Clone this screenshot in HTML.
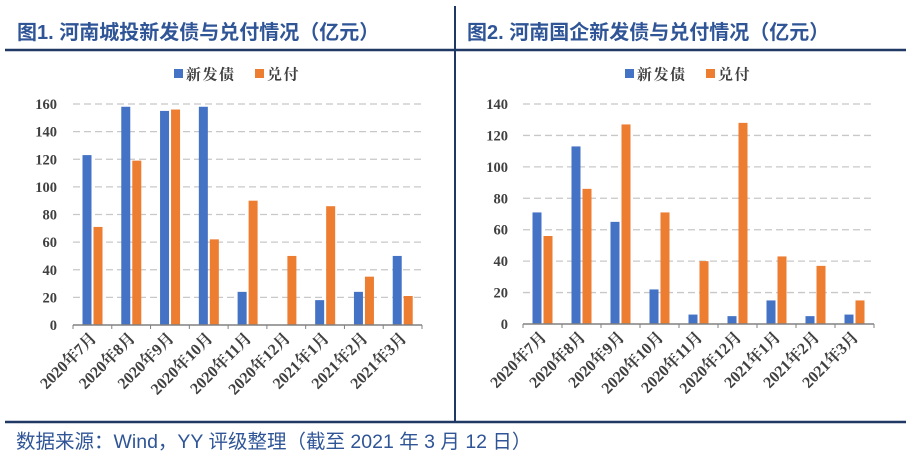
<!DOCTYPE html>
<html><head><meta charset="utf-8"><style>
html,body{margin:0;padding:0;background:#fff;width:918px;height:458px;overflow:hidden}
svg text{font-family:"Liberation Serif","Noto Serif CJK SC",serif}
.t{font-family:"Liberation Sans","Noto Sans CJK SC",sans-serif;font-weight:bold;fill:#2f5597;font-size:20px}
</style></head><body>
<svg id="s" width="918" height="458" xmlns="http://www.w3.org/2000/svg">
<rect width="918" height="458" fill="#fff"/>
<line x1="5" y1="50" x2="906" y2="50" stroke="#1f3864" stroke-width="2.5"/>
<line x1="455" y1="6" x2="455" y2="422" stroke="#1f3864" stroke-width="2"/>
<line x1="5" y1="422" x2="906" y2="422" stroke="#1f3864" stroke-width="2.5"/>
<text class="t" x="17" y="39">图1. 河南城投新发债与兑付情况（亿元）</text>
<text class="t" x="467" y="39">图2. 河南国企新发债与兑付情况（亿元）</text>
<text x="16" y="448" style="font-family:'Liberation Sans','Noto Sans CJK SC',sans-serif;font-size:19.5px;fill:#2f5597">数据来源：Wind，YY 评级整理（截至 2021 年 3 月 12 日）</text>
<g id="g"></g>
</svg>
<script>
var g=document.getElementById('g'),h='';
var cats=['2020年7月','2020年8月','2020年9月','2020年10月','2020年11月','2020年12月','2021年1月','2021年2月','2021年3月'];
function chart(x0,x1,y0,ytop,max,labX,b,o,legX){
  var cw=(x1-x0)/9,sc=(y0-ytop)/max;
  for(var v=20;v<=max;v+=20){var y=y0-v*sc;h+='<line x1="'+x0+'" y1="'+y+'" x2="'+x1+'" y2="'+y+'" stroke="#c8c8c8" stroke-width="1.3" stroke-dasharray="7,4"/>';}
  for(var v=0;v<=max;v+=20){var y=y0-v*sc;h+='<text x="'+labX+'" y="'+(y+5)+'" text-anchor="end" font-size="14.5" font-weight="bold" fill="#404040">'+v+'</text>';}
  for(var i=0;i<9;i++){var cx=x0+i*cw;
    h+='<rect x="'+(cx+9.5)+'" y="'+(y0-b[i]*sc)+'" width="9" height="'+(b[i]*sc)+'" fill="#4472c4"/>';
    h+='<rect x="'+(cx+20.5)+'" y="'+(y0-o[i]*sc)+'" width="9" height="'+(o[i]*sc)+'" fill="#ed7d31"/>';
    h+='<line x1="'+cx+'" y1="'+y0+'" x2="'+cx+'" y2="'+(y0+4)+'" stroke="#808080"/>';
    var tx=cx+cw/2+5,ty=y0+14;
    h+='<text transform="translate('+tx+','+ty+') rotate(-45)" text-anchor="end" font-size="16" font-weight="bold" fill="#404040">'+cats[i]+'</text>';}
  h+='<line x1="'+x1+'" y1="'+y0+'" x2="'+x1+'" y2="'+(y0+4)+'" stroke="#808080"/>';
  h+='<line x1="'+x0+'" y1="'+y0+'" x2="'+x1+'" y2="'+y0+'" stroke="#808080" stroke-width="1.5"/>';
  h+='<rect x="'+legX+'" y="69" width="9" height="9" fill="#4472c4"/><text x="'+(legX+12)+'" y="79.5" font-size="15" font-weight="bold" fill="#404040" letter-spacing="1.5">新发债</text>';
  h+='<rect x="'+(legX+81)+'" y="69" width="9" height="9" fill="#ed7d31"/><text x="'+(legX+93)+'" y="79.5" font-size="15" font-weight="bold" fill="#404040" letter-spacing="1.5">兑付</text>';
}
chart(73,422,325,104,160,57,[123,158,155,158,24,0,18,24,50],[71,119,156,62,90,50,86,35,21],174);
chart(523,874,324,104,140,508,[71,113,65,22,6,5,15,5,6],[56,86,127,71,40,128,43,37,15],625);
g.innerHTML=h;
</script>
</body></html>
